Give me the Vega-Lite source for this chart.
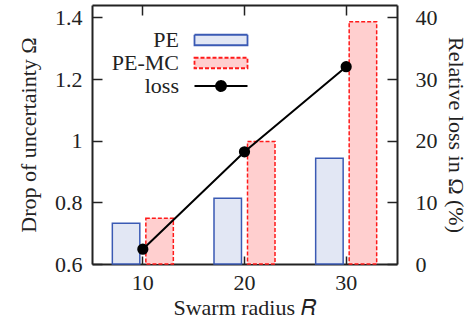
{
  "$schema": "https://vega.github.io/schema/vega-lite/v6.json",
  "width": 305,
  "height": 259,
  "autosize": {"type": "none"},
  "padding": {"left": 92, "top": 5, "right": 70, "bottom": 58},
  "background": "white",
  "config": {
    "view": {"stroke": null},
    "axis": {
      "labelFont": "Liberation Serif", "labelFontSize": 22, "labelColor": "#222",
      "titleFont": "Liberation Serif", "titleFontSize": 22, "titleFontWeight": "normal", "titleColor": "#222",
      "domainColor": "#222", "domainWidth": 2, "tickColor": "#222", "tickWidth": 1.5, "grid": false
    },
    "legend": {
      "orient": "none", "legendX": 118, "legendY": 24, "title": null,
      "labelFont": "Liberation Serif", "labelFontSize": 22, "labelColor": "#222", "labelLimit": 0,
      "symbolSize": 100, "rowPadding": 1, "symbolStrokeWidth": 1.8
    }
  },
  "datasets": {
    "bars": [
      {"R": "10", "series": "PE", "omega": 0.732},
      {"R": "10", "series": "PE-MC", "omega": 0.748},
      {"R": "20", "series": "PE", "omega": 0.813},
      {"R": "20", "series": "PE-MC", "omega": 0.997},
      {"R": "30", "series": "PE", "omega": 0.943},
      {"R": "30", "series": "PE-MC", "omega": 1.386}
    ],
    "loss": [
      {"R": "10", "loss": 2.4},
      {"R": "20", "loss": 18.2},
      {"R": "30", "loss": 32.0}
    ]
  },
  "layer": [
    {
      "data": {"name": "bars"},
      "mark": {"type": "bar", "fillOpacity": 1, "strokeWidth": 1.5},
      "encoding": {
        "x": {"field": "R", "type": "ordinal", "scale": {"paddingInner": 0.4, "paddingOuter": 0.2},
          "axis": {"orient": "bottom", "title": "Swarm radius 𝑅", "labelAngle": 0, "tickSize": -8, "labelPadding": 16, "titlePadding": 4}},
        "xOffset": {"field": "series", "scale": {"domain": ["PE", "PE-MC"], "paddingInner": 0.18}},
        "y": {"field": "omega", "type": "quantitative", "scale": {"domain": [0.6, 1.44], "nice": false, "zero": false},
          "axis": {"values": [0.6, 0.8, 1, 1.2, 1.4], "format": "~g", "title": "Drop of uncertainty Ω", "tickSize": -10, "labelPadding": 20, "titlePadding": 14}},
        "y2": {"datum": 0.6},
        "fill": {"field": "series", "type": "nominal", "scale": {"domain": ["PE", "PE-MC"], "range": ["#e2e7f4", "#ffcfcf"]}, "legend": null},
        "stroke": {"field": "series", "type": "nominal",
          "scale": {"domain": ["PE", "PE-MC", "loss"], "range": ["#3a5ab4", "#ff1a1a", "#000000"]},
          "legend": {
            "encode": {
              "symbols": {"update": {
                "shape": {"signal": "datum.value === 'loss' ? 'M-5.3,0H5.3M1,0A1,1,0,1,1,-1,0A1,1,0,1,1,1,0Z' : 'M-5.3,-1.05H5.3V1.05H-5.3Z'"},
                "fill": {"signal": "datum.value === 'PE' ? '#e2e7f4' : datum.value === 'PE-MC' ? '#ffcfcf' : '#000000'"},
                "strokeDash": {"signal": "datum.value === 'PE-MC' ? [4, 2] : [1, 0]"},
                "strokeWidth": {"value": 1.8},
                "fillOpacity": {"value": 1},
                "opacity": {"value": 1}
              }},
              "labels": {"update": {"x": {"value": -31}, "align": {"value": "right"}}}
            }
          }},
        "strokeDash": {"field": "series", "type": "nominal", "scale": {"domain": ["PE", "PE-MC"], "range": [[1, 0], [4, 2]]}, "legend": null}
      }
    },
    {
      "data": {"name": "loss"},
      "mark": {"type": "line", "strokeWidth": 2, "point": {"filled": true, "fill": "#000000", "size": 85}},
      "encoding": {
        "x": {"field": "R", "type": "ordinal", "axis": {"orient": "top", "labels": false, "title": null, "tickSize": -10}},
        "y": {"field": "loss", "type": "quantitative", "scale": {"domain": [0, 42], "nice": false},
          "axis": {"orient": "right", "values": [0, 10, 20, 30, 40], "title": "Relative loss in Ω (%)", "tickSize": -10, "labelPadding": 28, "titlePadding": 6}},
        "stroke": {"datum": "loss",
          "legend": {
            "encode": {
              "symbols": {"update": {
                "shape": {"signal": "datum.value === 'loss' ? 'M-5.3,0H5.3M1,0A1,1,0,1,1,-1,0A1,1,0,1,1,1,0Z' : 'M-5.3,-1.05H5.3V1.05H-5.3Z'"},
                "fill": {"signal": "datum.value === 'PE' ? '#e2e7f4' : datum.value === 'PE-MC' ? '#ffcfcf' : '#000000'"},
                "strokeDash": {"signal": "datum.value === 'PE-MC' ? [4, 2] : [1, 0]"},
                "strokeWidth": {"value": 1.8},
                "fillOpacity": {"value": 1},
                "opacity": {"value": 1}
              }},
              "labels": {"update": {"x": {"value": -31}, "align": {"value": "right"}}}
            }
          }}
      }
    }
  ],
  "resolve": {"scale": {"y": "independent"}, "axis": {"x": "independent"}}
}
